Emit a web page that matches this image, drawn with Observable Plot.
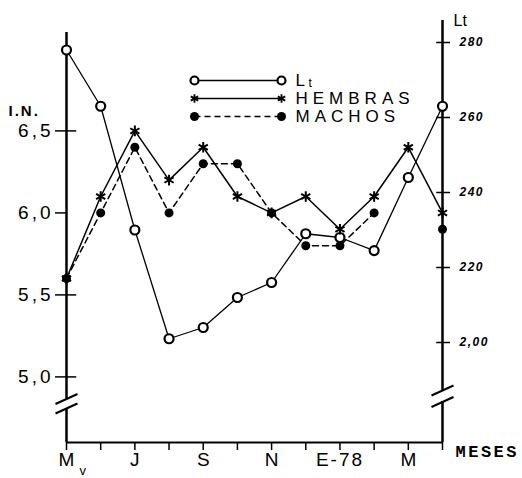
<!DOCTYPE html>
<html>
<head>
<meta charset="utf-8">
<script src="https://cdn.jsdelivr.net/npm/d3@7"></script>
<script src="https://cdn.jsdelivr.net/npm/@observablehq/plot@0.6"></script>
<style>
  body { margin: 0; background: #fff; }
  svg { font-family: "Liberation Sans", Arial, sans-serif; }
</style>
</head>
<body>
<div id="chart"></div>
<script>
// ---- data ----
const months = ["May","Jun","Jul","Ago","Sep","Oct","Nov","Dic","Ene-78","Feb","Mar","Abr"];
const monthTickLabels = ["M", "", "J", "", "S", "", "N", "", "E-78", "", "M", ""];
// Lt (right axis, mm)
const lt = [278, 263, 230, 201, 204, 212, 216, 229, 228, 224.5, 244, 263];
// Índice de nutrición (left axis)
const hembras = [5.6, 6.1, 6.5, 6.2, 6.4, 6.1, 6.0, 6.1, 5.9, 6.1, 6.4, 6.0];
const machos  = [5.6, 6.0, 6.4, 6.0, 6.3, 6.3, 6.0, 5.8, 5.8, 6.0, null, 5.9];
const inTicks = [5.0, 5.5, 6.0, 6.5];
const inTickLabels = ["5,0", "5,5", "6,0", "6,5"];
const ltTicks = [200, 220, 240, 260, 280];
const ltTickLabels = ["2,00", "220", "240", "260", "280"];
const legendLabels = ["L", "HEMBRAS", "MACHOS"];

// ---- mapping of Lt onto the I.N. scale (dual axis) ----
const toIN = v => 6.1244 + 0.022866 * (v - 240);

const rows = months.map((m, i) => ({i, m, lt: toIN(lt[i]), h: hembras[i], mc: machos[i]}));

// pixel helpers for the decorative annotation positions
const W = 522, H = 478, mL = 66, mR = 80, mT = 32, mB = 36;
const xDom = [0, 11], yDom = [4.6, 7.1];
const px2x = px => xDom[0] + (px - mL) / (W - mL - mR) * (xDom[1] - xDom[0]);
const px2y = py => yDom[1] - (py - mT) / (H - mT - mB) * (yDom[1] - yDom[0]);

const legend = legendLabels.map((t, k) => ({
  t, y: px2y([80, 98, 116][k]), x1: px2x(194), x2: px2x(281), xt: px2x(295)
}));

const leftSeg = [{y1: yDom[1], y2: px2y(398)}, {y1: px2y(408), y2: yDom[0]}];
const rightSeg = [{y1: px2y(20), y2: px2y(390)}, {y1: px2y(401), y2: yDom[0]}];
const leftSlash = [398.5, 408].map(p => ({x: 0, y: px2y(p)}));
const rightSlash = [390, 401.5].map(p => ({x: 11, y: px2y(p)}));
const sdx = 11 / ((W - mL - mR) / 11), sdy = 5 * (yDom[1] - yDom[0]) / (H - mT - mB);

const ltLabel = v => ltTickLabels[ltTicks.findIndex(t => Math.abs(toIN(t) - v) < 1e-6)];
const inLabel = v => inTickLabels[inTicks.findIndex(t => Math.abs(t - v) < 1e-6)];
const ends = d => [{x: d.x1, y: d.y}, {x: d.x2, y: d.y}];

const chart = Plot.plot({
  width: W, height: H,
  marginLeft: mL, marginRight: mR, marginTop: mT, marginBottom: mB,
  x: {domain: xDom, axis: null},
  y: {domain: yDom, axis: null},
  marks: [
    // axes lines
    Plot.ruleX(leftSeg, {x: 0, y1: "y1", y2: "y2", strokeWidth: 2.5}),
    Plot.ruleX(rightSeg, {x: 11, y1: "y1", y2: "y2", strokeWidth: 2.5}),
    Plot.ruleY([yDom[0]], {x1: 0, x2: 11, strokeWidth: 2.2}),
    Plot.link(leftSlash, {x1: d => d.x - sdx, x2: d => d.x + sdx, y1: d => d.y - sdy, y2: d => d.y + sdy, strokeWidth: 2}),
    Plot.link(rightSlash, {x1: d => d.x - sdx, x2: d => d.x + sdx, y1: d => d.y - sdy, y2: d => d.y + sdy, strokeWidth: 2}),
    // left axis
    Plot.axisY({anchor: "left", ticks: inTicks, tickFormat: inLabel, tickSize: 11, tickPadding: 2,
      fontSize: 19, strokeWidth: 1.5, label: null}),
    Plot.ruleY([5.0, 5.5, 6.5], {x1: 0, x2: 0.3, strokeWidth: 1.5}),
    // right axis
    Plot.axisY({anchor: "right", ticks: ltTicks.map(toIN), tickFormat: ltLabel, tickSize: 7, tickPadding: 10,
      fontSize: 12, fontStyle: "italic", fontWeight: "bold", strokeWidth: 1.5, label: null}),
    Plot.ruleY(ltTicks.map(toIN), {x1: 11 - 0.17, x2: 11, strokeWidth: 1.5}),
    // x axis
    Plot.axisX({anchor: "bottom", ticks: d3.range(12), tickFormat: (d) => monthTickLabels[d], tickSize: 8,
      tickPadding: 2, fontSize: 19, strokeWidth: 1.5, label: null}),
    Plot.text(["v"], {x: 0, y: yDom[0], dx: 13, dy: 28, fontSize: 13, textAnchor: "start"}),
    Plot.text(["MESES"], {x: 11, y: yDom[0], dx: 13, dy: 9, textAnchor: "start", fontSize: 17,
      fontFamily: "Liberation Mono", fontWeight: "bold"}),
    Plot.text(["I.N."], {x: 0, y: px2y(111), dx: -58, textAnchor: "start", fontSize: 15, fontWeight: "bold"}),
    Plot.text(["Lt"], {x: 11, y: px2y(20), dx: 11, textAnchor: "start", fontSize: 16}),
    // series lines
    Plot.line(rows, {x: "i", y: "lt", strokeWidth: 1.3}),
    Plot.line(rows, {x: "i", y: "h", strokeWidth: 1.5}),
    Plot.line(rows, {x: "i", y: "mc", strokeWidth: 1.5, strokeDasharray: "6,4"}),
    // series markers
    Plot.dot(rows, {x: "i", y: "lt", r: 4.5, fill: "white", stroke: "black", strokeWidth: 2.2}),
    Plot.dot(rows, {x: "i", y: "h", r: 5, symbol: "asterisk", stroke: "black", strokeWidth: 2}),
    Plot.dot(rows, {x: "i", y: "mc", r: 4.5, fill: "black", stroke: "none"}),
    // legend
    Plot.link(legend.slice(0, 2), {x1: "x1", x2: "x2", y1: "y", y2: "y", strokeWidth: 1.5}),
    Plot.link(legend.slice(2), {x1: "x1", x2: "x2", y1: "y", y2: "y", strokeWidth: 1.5, strokeDasharray: "6,4"}),
    Plot.dot(ends(legend[0]), {x: "x", y: "y", r: 4, fill: "white", stroke: "black", strokeWidth: 2.2}),
    Plot.dot(ends(legend[1]), {x: "x", y: "y", r: 4, symbol: "asterisk", stroke: "black", strokeWidth: 1.8}),
    Plot.dot(ends(legend[2]), {x: "x", y: "y", r: 4.5, fill: "black"}),
    Plot.text(legend, {x: "xt", y: "y", text: "t", textAnchor: "start", fontSize: 17}),
    Plot.text(legend.slice(0, 1), {x: "xt", y: "y", text: () => "t", dx: 13, dy: 3, textAnchor: "start", fontSize: 12})
  ]
});

// letter spacing (not a Plot text option) applied after rendering
const spacing = {"HEMBRAS": "5px", "MACHOS": "5px", "MESES": "2.5px", "I.N.": "2px",
  "5,0": "3px", "5,5": "3px", "6,0": "3px", "6,5": "3px", "E-78": "2px", "280": "1.5px",
  "260": "1.5px", "240": "1.5px", "220": "1.5px", "2,00": "1.5px"};
d3.select(chart).selectAll("text").each(function() {
  const s = spacing[this.textContent];
  if (s) this.setAttribute("letter-spacing", s);
});
document.getElementById("chart").appendChild(chart);
</script>
</body>
</html>
